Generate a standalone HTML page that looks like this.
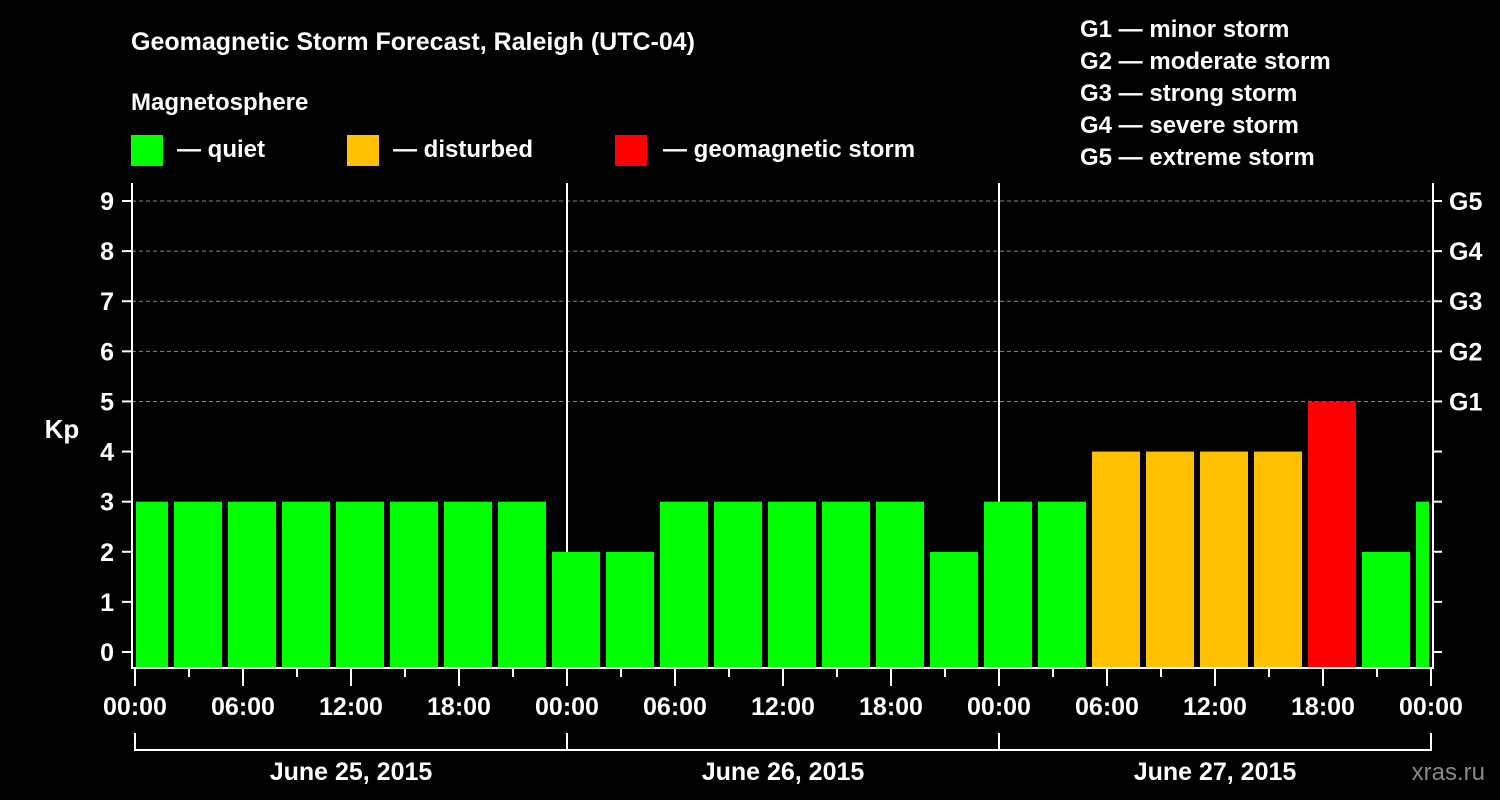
<!DOCTYPE html>
<html><head><meta charset="utf-8"><style>
html,body{margin:0;padding:0;background:#000;}
svg{display:block;font-family:"Liberation Sans",sans-serif;font-weight:bold;}
</style></head><body>
<svg id="chart" width="1500" height="800" viewBox="0 0 1500 800">
<text x="131" y="50" fill="#fff" font-size="25">Geomagnetic Storm Forecast, Raleigh (UTC-04)</text>
<text x="131" y="110" fill="#fff" font-size="24">Magnetosphere</text>
<g><rect x="131" y="135" width="32" height="31" fill="#00ff00"/><text x="177" y="157" fill="#fff" font-size="24">— quiet</text></g>
<g><rect x="347" y="135" width="32" height="31" fill="#ffc000"/><text x="393" y="157" fill="#fff" font-size="24">— disturbed</text></g>
<g><rect x="615" y="135" width="32" height="31" fill="#ff0000"/><text x="663" y="157" fill="#fff" font-size="24">— geomagnetic storm</text></g>
<g fill="#fff" font-size="24">
<text x="1080" y="37">G1 — minor storm</text>
<text x="1080" y="69">G2 — moderate storm</text>
<text x="1080" y="101">G3 — strong storm</text>
<text x="1080" y="133">G4 — severe storm</text>
<text x="1080" y="165">G5 — extreme storm</text>
</g>
<text x="62" y="438" fill="#fff" font-size="26" text-anchor="middle">Kp</text>
<text x="1485" y="780" fill="#888" font-size="24" text-anchor="end" font-weight="normal">xras.ru</text>
<g id="grid"></g><g id="bars"></g><g id="axes"></g>
</svg>
<script>
const kpValues=[3,3,3,3,3,3,3,3,2,2,3,3,3,3,3,2,3,3,4,4,4,4,5,2,3];
const yTicks=[0,1,2,3,4,5,6,7,8,9];
const gLabels=["G1","G2","G3","G4","G5"];
const xTickLabels=["00:00","06:00","12:00","18:00","00:00","06:00","12:00","18:00","00:00","06:00","12:00","18:00","00:00"];
const dateLabels=["June 25, 2015","June 26, 2015","June 27, 2015"];
const firstBarStartHour=-1; // bars start at 23:00 local of previous day, 3h each
const NS="http://www.w3.org/2000/svg";
const X0=135,PXH=18,LEFT=132,RIGHT=1433,TOP=183,BOT=668;
const xs=h=>X0+h*PXH;
const ys=v=>652-v*50.11;
function mk(tag,attrs,parent,text){const e=document.createElementNS(NS,tag);for(const k in attrs)e.setAttribute(k,attrs[k]);if(text!==undefined)e.textContent=text;parent.appendChild(e);return e;}
const grid=document.getElementById('grid'),bars=document.getElementById('bars'),axes=document.getElementById('axes');
yTicks.forEach(v=>{if(v>=5){const l=mk('line',{x1:LEFT,x2:RIGHT,y1:ys(v),y2:ys(v),stroke:'#888','stroke-dasharray':'4,3','stroke-width':1},grid);

}});
[1,2].forEach(d=>{const l=mk('line',{x1:xs(d*24),x2:xs(d*24),y1:TOP,y2:BOT,stroke:'#fff','stroke-width':2},grid);

});
kpValues.forEach((v,i)=>{let s=xs(firstBarStartHour+i*3)+3,e=xs(firstBarStartHour+(i+1)*3)-3;s=Math.max(s,136);e=Math.min(e,1429);
const c=v>=5?'#ff0000':(v>=4?'#ffc000':'#00ff00');
const r=mk('rect',{x:s,y:ys(v),width:e-s,height:BOT-1-ys(v),fill:c},bars);

});
mk('line',{x1:LEFT,x2:LEFT,y1:TOP,y2:BOT+1,stroke:'#fff','stroke-width':2},axes);
mk('line',{x1:RIGHT,x2:RIGHT,y1:TOP,y2:BOT+1,stroke:'#fff','stroke-width':2},axes);
mk('line',{x1:LEFT-1,x2:RIGHT+1,y1:BOT,y2:BOT,stroke:'#fff','stroke-width':2},axes);
yTicks.forEach(v=>{mk('line',{x1:122,x2:LEFT,y1:ys(v),y2:ys(v),stroke:'#fff','stroke-width':2},axes);
mk('line',{x1:RIGHT,x2:1442,y1:ys(v),y2:ys(v),stroke:'#fff','stroke-width':2},axes);
const t=mk('text',{x:114,y:ys(v)+9,fill:'#fff','font-size':25,'text-anchor':'end'},axes,String(v));

});
gLabels.forEach((g,i)=>{const t=mk('text',{x:1449,y:ys(5+i)+9,fill:'#fff','font-size':25},axes,g);

});
for(let h=0;h<=72;h+=3){const major=h%6===0;mk('line',{x1:xs(h),x2:xs(h),y1:BOT,y2:major?686:677,stroke:'#fff','stroke-width':2},axes);}
xTickLabels.forEach((lb,i)=>{const t=mk('text',{x:xs(i*6),y:715,fill:'#fff','font-size':25,'text-anchor':'middle'},axes,lb);

});
mk('line',{x1:xs(0),x2:xs(72),y1:750,y2:750,stroke:'#fff','stroke-width':2},axes);
for(let d=0;d<=3;d++)mk('line',{x1:xs(d*24),x2:xs(d*24),y1:733,y2:751,stroke:'#fff','stroke-width':2},axes);
dateLabels.forEach((lb,i)=>{const t=mk('text',{x:xs(i*24+12),y:780,fill:'#fff','font-size':25,'text-anchor':'middle'},axes,lb);

});
</script>
</body></html>
